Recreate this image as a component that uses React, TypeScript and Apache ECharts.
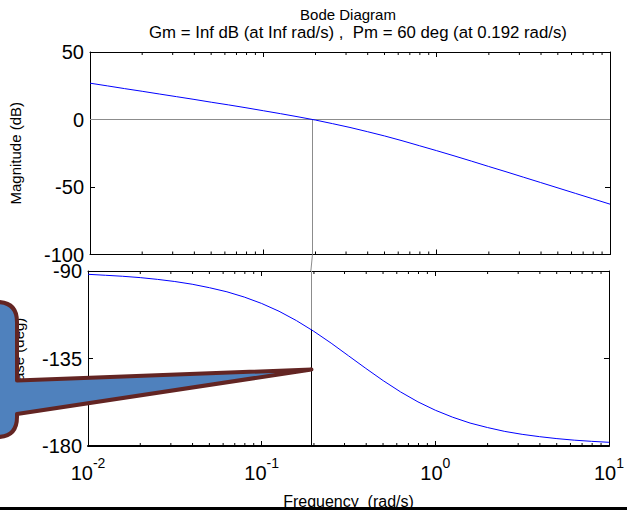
import React, { useEffect, useRef } from 'react';
import * as echarts from 'echarts';

// ---- data ----
const freqs = [0.01, 0.0126, 0.0158, 0.02, 0.0251, 0.0316, 0.0398, 0.0501, 0.0631, 0.0794, 0.1, 0.1259, 0.1585, 0.1995, 0.2512, 0.3162, 0.3981, 0.5012, 0.631, 0.7943, 1, 1.259, 1.585, 1.995, 2.512, 3.162, 3.981, 5.012, 6.31, 7.943, 10];
const magDb = [26.9, 24.9, 22.9, 20.9, 18.9, 16.9, 14.9, 12.8, 10.8, 8.7, 6.5, 4.3, 2.0, -0.4, -3.1, -5.9, -9.0, -12.2, -15.7, -19.4, -23.1, -26.9, -30.8, -34.8, -38.7, -42.7, -46.7, -50.7, -54.7, -58.7, -62.7];
const phaseDeg = [-91.7, -92.2, -92.7, -93.4, -94.3, -95.4, -96.8, -98.6, -100.7, -103.4, -106.7, -110.7, -115.5, -121.0, -127.1, -133.6, -140.1, -146.4, -152.2, -157.3, -161.6, -165.2, -168.2, -170.5, -172.5, -174.0, -175.2, -176.2, -177.0, -177.6, -178.1];
const minorTickFreqs = [0.02, 0.03, 0.04, 0.05, 0.06, 0.07, 0.08, 0.09, 0.2, 0.3, 0.4, 0.5, 0.6, 0.7, 0.8, 0.9, 2, 3, 4, 5, 6, 7, 8, 9];
const crossoverFreq = 0.192;
const phaseAtCrossover = -120;
const magRange = [-100, 50];
const phaseRange = [-180, -90];
const freqRange = [0.01, 10];
const titleLines = ['Bode Diagram', 'Gm = Inf dB (at Inf rad/s) ,  Pm = 60 deg (at 0.192 rad/s)'];
const magLabel = 'Magnitude (dB)';
const phaseLabel = 'Phase (deg)';
const freqLabel = 'Frequency  (rad/s)';

const FONT = 'Liberation Sans, Arial, Helvetica, sans-serif';

const CALLOUT_D =
  'M -30 302 L -3 302 Q 17 302 17 322 L 17 380.5 L 311.5 369.5 L 17 414 L 17 417 Q 17 437 -3 437 L -30 437 Z';
echarts.graphic.registerShape('callout', echarts.graphic.extendPath(CALLOUT_D, {}));

function xAxis(gridIndex: number, position: string, labels: boolean, name?: string) {
  return {
    type: 'log',
    logBase: 10,
    min: freqRange[0],
    max: freqRange[1],
    gridIndex,
    position,
    name: name || '',
    nameLocation: 'middle',
    nameGap: 47,
    nameTextStyle: { fontFamily: FONT, fontSize: 16, color: '#000' },
    axisLine: { show: true, onZero: false, lineStyle: { color: '#000', width: name ? 2 : 1 } },
    axisTick: { show: true, inside: true, length: 5, lineStyle: { color: '#000', width: 1 } },
    axisLabel: {
      show: labels,
      margin: 10,
      interval: 0,
      showMinLabel: true,
      showMaxLabel: true,
      formatter: (v: number) => `{b|10}{s|${Math.round(Math.log10(v))}}`,
      rich: {
        b: { fontFamily: FONT, fontSize: 20, lineHeight: 27, color: '#000', verticalAlign: 'bottom' },
        s: { fontFamily: FONT, fontSize: 14, lineHeight: 14, color: '#000', verticalAlign: 'top' },
      },
    },
    splitLine: { show: false },
  };
}

function yAxis(gridIndex: number, position: string, range: number[], interval: number, labels: boolean, name?: string, nameGap?: number) {
  return {
    type: 'value',
    gridIndex,
    position,
    min: range[0],
    max: range[1],
    interval,
    name: name || '',
    nameLocation: 'middle',
    nameGap: nameGap || 0,
    nameTextStyle: { fontFamily: FONT, fontSize: 15, color: '#000' },
    axisLine: { show: true, onZero: false, lineStyle: { color: '#000', width: 1 } },
    axisTick: { show: true, inside: true, length: 5, lineStyle: { color: '#000', width: 1 } },
    axisLabel: { show: labels, margin: 6, fontFamily: FONT, fontSize: 20, color: '#000', showMinLabel: true, showMaxLabel: true },
    splitLine: { show: false },
  };
}

function minorTicks(xi: number, yi: number, range: number[]) {
  return {
    type: 'custom',
    xAxisIndex: xi,
    yAxisIndex: yi,
    silent: true,
    data: minorTickFreqs.map((f) => [f, range[0]]),
    encode: { x: 0, y: 1 },
    renderItem: (_p: any, api: any) => {
      const f = api.value(0);
      const top = api.coord([f, range[1]]);
      const bot = api.coord([f, range[0]]);
      return {
        type: 'group',
        children: [
          { type: 'line', shape: { x1: top[0], y1: top[1], x2: top[0], y2: top[1] + 3 }, style: { stroke: '#000', lineWidth: 1 } },
          { type: 'line', shape: { x1: bot[0], y1: bot[1], x2: bot[0], y2: bot[1] - 3 }, style: { stroke: '#000', lineWidth: 1 } },
        ],
      };
    },
  };
}

export default function App() {
  const ref = useRef<HTMLDivElement>(null);
  useEffect(() => {
    if (!ref.current) return;
    const chart = echarts.init(ref.current, null, { renderer: 'svg' });
    chart.setOption({
      animation: false,
      backgroundColor: '#fff',
      grid: [
        { left: 88, top: 52, width: 522, height: 202.5 },
        { left: 88, top: 271, width: 522, height: 178 },
      ],
      xAxis: [
        xAxis(0, 'bottom', false),
        xAxis(0, 'top', false),
        xAxis(1, 'bottom', true, freqLabel),
        xAxis(1, 'top', false),
      ],
      yAxis: [
        yAxis(0, 'left', magRange, 50, true, magLabel, 67),
        yAxis(0, 'right', magRange, 50, false),
        yAxis(1, 'left', phaseRange, 45, true, phaseLabel, 62),
        yAxis(1, 'right', phaseRange, 45, false),
      ],
      series: [
        {
          type: 'line',
          xAxisIndex: 0,
          yAxisIndex: 0,
          data: freqs.map((f, i) => [f, magDb[i]]),
          symbol: 'none',
          lineStyle: { color: '#0000ff', width: 1 },
          z: 5,
          markLine: {
            silent: true,
            symbol: 'none',
            label: { show: false },
            lineStyle: { color: '#8c8c8c', width: 1, type: 'solid' },
            data: [
              { yAxis: 0 },
              [{ coord: [crossoverFreq, 0] }, { coord: [crossoverFreq, magRange[0]] }],
            ],
          },
        },
        {
          type: 'line',
          xAxisIndex: 2,
          yAxisIndex: 2,
          data: freqs.map((f, i) => [f, phaseDeg[i]]),
          symbol: 'none',
          lineStyle: { color: '#0000ff', width: 1 },
          z: 5,
          markLine: {
            silent: true,
            symbol: 'none',
            label: { show: false },
            lineStyle: { color: '#8c8c8c', width: 1, type: 'solid' },
            data: [
              [{ coord: [crossoverFreq, phaseRange[1]] }, { coord: [crossoverFreq, phaseRange[0]] }],
              [
                { coord: [crossoverFreq, phaseAtCrossover], lineStyle: { color: '#000', width: 1, type: 'solid' } },
                { coord: [crossoverFreq, phaseRange[0]] },
              ],
            ],
          },
        },
        minorTicks(0, 0, magRange),
        minorTicks(2, 2, phaseRange),
      ],
    });

    const p1 = chart.convertToPixel({ gridIndex: 0 } as any, [crossoverFreq, magRange[0]]) as number[];
    const p2 = chart.convertToPixel({ gridIndex: 1 } as any, [crossoverFreq, phaseRange[1]]) as number[];

    chart.setOption({
      graphic: [
        {
          type: 'text',
          x: 348,
          y: 7,
          style: { text: titleLines[0], font: `15px ${FONT}`, fill: '#000', textAlign: 'center', textVerticalAlign: 'top' },
        },
        {
          type: 'text',
          x: 358,
          y: 24,
          style: { text: titleLines[1], font: `16.8px ${FONT}`, fill: '#000', textAlign: 'center', textVerticalAlign: 'top' },
        },
        {
          type: 'line',
          z: 3,
          shape: { x1: p1[0], y1: p1[1], x2: p2[0], y2: p2[1] },
          style: { stroke: '#8c8c8c', lineWidth: 1 },
        },
        {
          type: 'callout',
          x: 0,
          y: 0,
          z: 100,
          style: { fill: '#4f81bd', stroke: '#632523', lineWidth: 4, lineJoin: 'round' },
        },
        {
          type: 'rect',
          z: 100,
          shape: { x: 0, y: 507, width: 627, height: 3 },
          style: { fill: '#000' },
        },
      ],
    });

    return () => chart.dispose();
  }, []);
  return <div ref={ref} style={{ position: 'absolute', left: 0, top: 0, width: 627, height: 510 }} />;
}
